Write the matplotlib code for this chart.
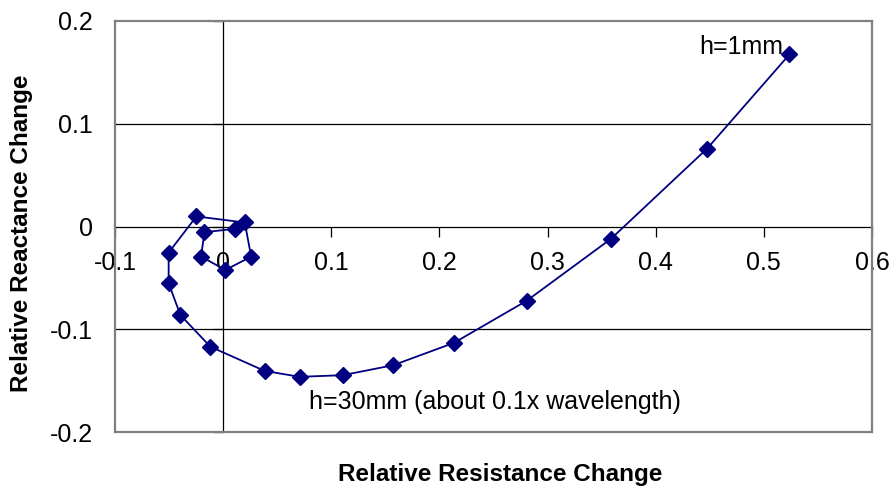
import matplotlib
matplotlib.use("Agg")
import matplotlib.pyplot as plt

plt.rcParams['font.family'] = ['Liberation Sans', 'DejaVu Sans']

# Relative impedance change while the height h sweeps from 1 mm to 30 mm
resistance_change = [0.5237, 0.4475, 0.3586, 0.2808, 0.2135, 0.1573, 0.1107,
                     0.0707, 0.0383, -0.0118, -0.0395, -0.0504, -0.0504,
                     -0.0247, 0.0200, 0.0259, 0.0021, -0.0204, -0.0173, 0.0108]
reactance_change = [0.1675, 0.0758, -0.0120, -0.0722, -0.1132, -0.1350, -0.1447,
                    -0.1463, -0.1405, -0.1170, -0.0862, -0.0553, -0.0254,
                    0.0098, 0.0039, -0.0293, -0.0423, -0.0293, -0.0055, -0.0023]

x_ticks = [-0.1, 0, 0.1, 0.2, 0.3, 0.4, 0.5, 0.6]
x_tick_labels = ['-0.1', '0', '0.1', '0.2', '0.3', '0.4', '0.5', '0.6']
y_ticks = [-0.2, -0.1, 0, 0.1, 0.2]
y_tick_labels = ['-0.2', '-0.1', '0', '0.1', '0.2']

fig = plt.figure(figsize=(8.94, 4.93), dpi=100)
ax = fig.add_axes([115 / 894, 61 / 493, 757 / 894, 411 / 493])
ax.set_xlim(-0.1, 0.6)
ax.set_ylim(-0.2, 0.2)

# gray plot-area frame
for s in ax.spines.values():
    s.set_color('#808080')
    s.set_linewidth(1.6)

# horizontal gridlines
for yv in (-0.1, 0.1):
    ax.axhline(yv, color='black', linewidth=0.9, zorder=1)

# y labels on the left edge, no tick marks there
ax.set_yticks(y_ticks)
ax.set_yticklabels(y_tick_labels)
ax.tick_params(axis='y', length=0, pad=16, labelsize=18)
ax.set_xticks([])

# horizontal axis crossing at y = 0
frac_y0 = (0 - (-0.2)) / 0.4
xaxis0 = ax.secondary_xaxis(frac_y0)
xaxis0.set_alignment('bottom')
xaxis0.set_xticks(x_ticks)
xaxis0.set_xticklabels(x_tick_labels)
xaxis0.tick_params(axis='x', direction='out', length=7, width=0.9,
                   color='black', labelsize=18, pad=11)
for s in xaxis0.spines.values():
    s.set_color('black')
    s.set_linewidth(0.9)

# vertical axis crossing at x = 0
frac_x0 = (0 - (-0.1)) / 0.7
yaxis0 = ax.secondary_yaxis(frac_x0)
yaxis0.set_alignment('left')
yaxis0.set_yticks(y_ticks)
yaxis0.set_yticklabels([])
yaxis0.tick_params(axis='y', direction='out', length=7, width=0.9, color='black')
for s in yaxis0.spines.values():
    s.set_color('black')
    s.set_linewidth(0.9)

ax.plot(resistance_change, reactance_change, color='#000080', linewidth=1.3,
        marker='D', markersize=8.5, markerfacecolor='#000080',
        markeredgecolor='#000080', zorder=5, clip_on=False)

ax.text(resistance_change[0] - 0.006, reactance_change[0], 'h=1mm',
        ha='right', va='baseline', fontsize=18, zorder=6)
ax.text(0.079, -0.171, 'h=30mm (about 0.1x wavelength)',
        ha='left', va='center', fontsize=18, zorder=6)

fig.text(500 / 894, 1 - 474 / 493, 'Relative Resistance Change',
         ha='center', va='center', fontsize=17.5, fontweight='bold')
fig.text(22 / 894, 1 - 233 / 493, 'Relative Reactance Change',
         ha='center', va='center', fontsize=17.5, fontweight='bold', rotation=90)

fig.savefig('out.png', dpi=100)
